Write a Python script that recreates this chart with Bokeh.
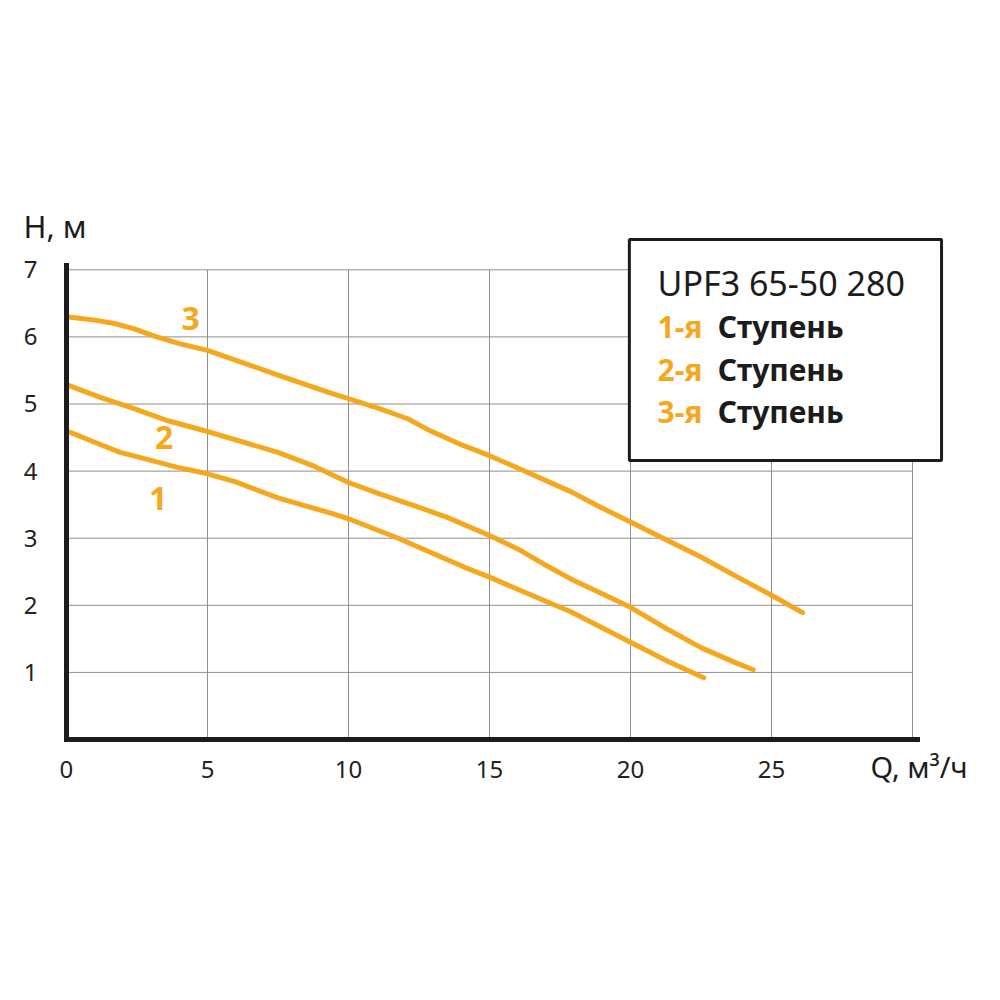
from bokeh.plotting import figure
from bokeh.models import Range1d, FixedTicker, Label, BoxAnnotation
from bokeh.embed import file_html
from bokeh.resources import INLINE

# ---- data ----
q1 = [0, 1, 1.9, 2.9, 3.9, 5, 6, 7.5, 9.4, 10, 11.7, 12.9, 14.1, 15, 16.1, 17.9, 20, 21.3, 22.6]
h1 = [4.60, 4.43, 4.28, 4.17, 4.06, 3.96, 3.84, 3.60, 3.37, 3.29, 3.01, 2.79, 2.57, 2.42, 2.22, 1.90, 1.45, 1.17, 0.92]

q2 = [0, 1.2, 2.4, 3.6, 5, 7.5, 8.8, 10, 11.1, 12.3, 13.5, 15, 16, 16.9, 17.9, 18.9, 20, 21.2, 22.5, 23.7, 24.35]
h2 = [5.29, 5.10, 4.93, 4.75, 4.59, 4.28, 4.07, 3.83, 3.66, 3.49, 3.31, 3.04, 2.84, 2.62, 2.39, 2.19, 1.97, 1.67, 1.37, 1.15, 1.04]

q3 = [0, 1, 1.7, 2.4, 3.2, 4, 5, 7.5, 9.4, 10, 11.1, 12.1, 12.9, 13.9, 15, 16.2, 17.9, 18.8, 20, 21.3, 22.5, 23.8, 25, 26.1]
h3 = [6.30, 6.25, 6.20, 6.12, 6.00, 5.90, 5.80, 5.43, 5.16, 5.08, 4.93, 4.78, 4.60, 4.41, 4.23, 4.01, 3.69, 3.49, 3.24, 2.97, 2.72, 2.42, 2.15, 1.89]

x_ticks = [0, 5, 10, 15, 20, 25, 30]
y_ticks = [1, 2, 3, 4, 5, 6, 7]

curve_names = ["1", "2", "3"]
curve_label_pos = [(3.25, 3.59), (3.46, 4.50), (4.40, 6.27)]

x_title = "Q, м³/ч"
y_title = "H, м"
title_text = "UPF3 65-50 280"
stage_texts = ["1-я", "2-я", "3-я"]
stage_word = "Ступень"

ORANGE = "#F5A71E"
DARK = "#1c1c1c"
GRID = "#8e8e8e"
FONT = "Noto Sans"

# frame covers the whole figure; axes are pinned at 0
p = figure(width=992, height=992, output_backend="svg", toolbar_location=None,
           x_range=Range1d(-2.340, 32.837), y_range=Range1d(-3.770, 11.013),
           min_border=0)
p.outline_line_color = None
p.background_fill_color = "white"
p.border_fill_color = "white"

for ax in (p.xaxis[0], p.yaxis[0]):
    ax.fixed_location = 0
    ax.axis_line_color = DARK
    ax.axis_line_width = 5
    ax.axis_line_cap = "square"
    ax.major_tick_line_color = None
    ax.minor_tick_line_color = None
    ax.major_tick_out = 0
    ax.major_tick_in = 0
    ax.major_label_text_font = FONT
    ax.major_label_text_font_size = "24px"
    ax.major_label_text_color = "#222222"

p.xaxis[0].bounds = (0, 30.18)
p.yaxis[0].bounds = (0, 7.06)
p.xaxis[0].ticker = FixedTicker(ticks=x_ticks)
p.xaxis[0].major_label_overrides = {30: ""}
p.xaxis[0].major_label_standoff = 21
p.yaxis[0].ticker = FixedTicker(ticks=y_ticks)
p.yaxis[0].major_label_standoff = 29

# grid limited to the 0..30 x 0..7 area
p.xgrid[0].visible = False
p.ygrid[0].visible = False
p.segment(x0=x_ticks, y0=[0] * len(x_ticks), x1=x_ticks, y1=[max(y_ticks)] * len(x_ticks),
          line_color=GRID, line_width=1)
p.segment(x0=[0] * len(y_ticks), y0=y_ticks, x1=[max(x_ticks)] * len(y_ticks), y1=y_ticks,
          line_color=GRID, line_width=1)

for qs, hs in ((q1, h1), (q2, h2), (q3, h3)):
    p.line(qs, hs, line_color=ORANGE, line_width=5, line_join="round", line_cap="round")

for name, (lx, ly) in zip(curve_names, curve_label_pos):
    p.add_layout(Label(x=lx, y=ly, text=name, text_font=FONT, text_font_size="32px",
                       text_font_style="bold", text_color=ORANGE,
                       text_align="center", text_baseline="middle"))

# axis titles
p.add_layout(Label(x=-1.525, y=7.66, text=y_title, text_font=FONT, text_font_size="31px",
                   text_color=DARK, text_align="left", text_baseline="alphabetic"))
p.add_layout(Label(x=28.51, y=-0.40, text=x_title, text_font=FONT, text_font_size="29px",
                   text_color=DARK, text_align="left", text_baseline="alphabetic"))

# legend box
p.add_layout(BoxAnnotation(left=19.96, right=31.03, top=7.45, bottom=4.158,
                           fill_color="white", fill_alpha=1.0,
                           line_color=DARK, line_width=3, line_alpha=1.0))
p.add_layout(Label(x=20.96, y=6.81, text=title_text, text_font=FONT, text_font_size="34px",
                   text_color=DARK, text_align="left", text_baseline="alphabetic"))
stage_y = [6.155, 5.514, 4.888]
for t, sy in zip(stage_texts, stage_y):
    p.add_layout(Label(x=20.96, y=sy, text=t, text_font=FONT, text_font_size="30px",
                       text_font_style="bold", text_color=ORANGE,
                       text_align="left", text_baseline="alphabetic"))
    p.add_layout(Label(x=23.09, y=sy, text=stage_word, text_font=FONT, text_font_size="30px",
                       text_font_style="bold", text_color=DARK,
                       text_align="left", text_baseline="alphabetic"))

open("out.html", "w").write(file_html(p, INLINE))
